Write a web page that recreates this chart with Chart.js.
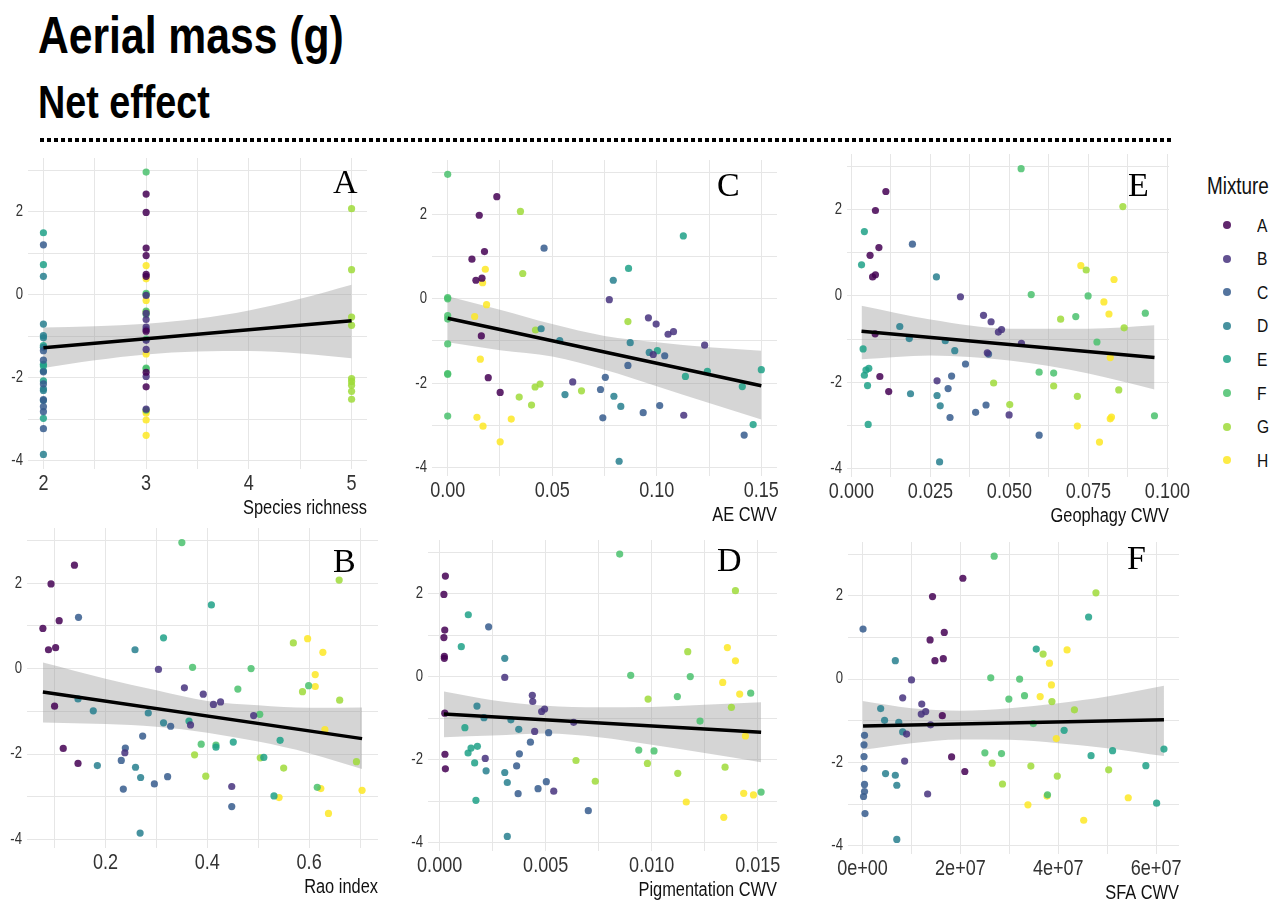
<!DOCTYPE html>
<html>
<head>
<meta charset="utf-8">
<script src="https://cdn.jsdelivr.net/npm/chart.js@4.4.1/dist/chart.umd.min.js"></script>
<style>
  html, body { margin: 0; padding: 0; background: #fff; }
  body { width: 1285px; height: 901px; position: relative; overflow: hidden;
         font-family: 'Liberation Sans Narrow', 'Arial Narrow', 'Liberation Sans', Arial, sans-serif; }
  .txt { position: absolute; white-space: nowrap; color: #000; transform: scaleX(0.82); transform-origin: 0 0; }
  .h1 { left: 38px; top: 9px; font-size: 52px; line-height: 52px; font-weight: bold; }
  .h2 { left: 38px; top: 79px; font-size: 46px; line-height: 46px; font-weight: bold; }
  .dots { position: absolute; left: 40px; top: 138px; width: 1132px; height: 4px;
          background: repeating-linear-gradient(to right, #000 0 4px, transparent 4px 7px); }
  .tag { position: absolute; font-family: 'Liberation Serif', 'Times New Roman', serif;
         font-size: 34px; line-height: 34px; color: #000; }
  .panel { position: absolute; }
  .leg-title { left: 1207px; top: 175px; font-size: 23px; line-height: 23px; color: #111; }
  .leg-dot { position: absolute; width: 8px; height: 8px; border-radius: 50%; }
  .leg-lab { position: absolute; font-size: 19px; line-height: 19px; color: #111; }
</style>
</head>
<body>
<div class="txt h1">Aerial mass (g)</div>
<div class="txt h2">Net effect</div>
<div class="dots"></div>
<div class="txt leg-title">Mixture</div>
<div id="legend"></div>

<script>
// ----- data: one entry per plot (71 plots) -----
const mixtures = ['A', 'B', 'C', 'D', 'E', 'F', 'G', 'H'];
const mixColors = ['#440154', '#46337E', '#365C8D', '#277F8E', '#1FA187', '#4AC16D', '#9FDA3A', '#FDE725'];

const mix = [
  ...'AAAAAAAAA', ...'BBBBBBBBB', ...'CCCCCCCCC', ...'DDDDDDDDD',
  ...'EEEEEEEE', ...'FFFFFFFFF', ...'GGGGGGGGG', ...'HHHHHHHHH'
];

const netEffect = [
  2.42, 1.98, 1.12, 0.94, 0.49, 0.44, -0.88, -1.87, -2.22,
  -0.02, -0.45, -0.60, -0.78, -0.84, -1.10, -1.32, -1.97, -2.76,
  1.20, -1.35, -1.58, -1.86, -2.15, -2.53, -2.70, -2.82, -3.23,
  0.44, -0.71, -0.99, -1.04, -1.27, -2.27, -2.31, -2.55, -3.85,
  1.49, 0.72, -1.23, -1.68, -1.72, -1.84, -2.08, -2.98,
  2.95, 0.03, 0.00, -0.40, -0.48, -1.07, -1.77, -1.79, -2.78,
  2.07, 0.60, -0.54, -0.74, -2.02, -2.09, -2.18, -2.33, -2.52,
  0.70, 0.38, -0.14, -0.42, -1.43, -2.81, -2.85, -3.02, -3.39
];

const richness = [
  3, 3, 3, 3, 3, 3, 3, 3, 3,
  3, 3, 3, 3, 3, 3, 3, 3, 3,
  2, 2, 2, 2, 2, 2, 2, 2, 2,
  2, 2, 2, 2, 2, 2, 2, 2, 2,
  2, 2, 2, 2, 2, 2, 2, 2,
  3, 3, 3, 3, 3, 3, 3, 3, 3,
  5, 5, 5, 5, 5, 5, 5, 5, 5,
  3, 3, 3, 3, 3, 3, 3, 3, 3
];

const raoIndex = [
  0.139, 0.093, 0.109, 0.077, 0.102, 0.088, 0.100, 0.117, 0.146,
  0.304, 0.355, 0.392, 0.426, 0.412, 0.491, 0.367, 0.238, 0.448,
  0.147, 0.328, 0.273, 0.239, 0.231, 0.322, 0.296, 0.235, 0.448,
  0.258, 0.146, 0.176, 0.284, 0.314, 0.184, 0.259, 0.269, 0.268,
  0.408, 0.314, 0.364, 0.543, 0.451, 0.417, 0.511, 0.531,
  0.350, 0.371, 0.486, 0.599, 0.460, 0.503, 0.388, 0.417, 0.616,
  0.659, 0.569, 0.587, 0.660, 0.375, 0.504, 0.693, 0.550, 0.397,
  0.597, 0.627, 0.612, 0.612, 0.631, 0.623, 0.704, 0.541, 0.638
];

const aeCwv = [
  0.0235, 0.0151, 0.0176, 0.0116, 0.0164, 0.0135, 0.0161, 0.0194, 0.0251,
  0.0773, 0.0960, 0.0997, 0.1080, 0.1054, 0.1229, 0.0983, 0.0598, 0.1129,
  0.0461, 0.1038, 0.0862, 0.0754, 0.0731, 0.1014, 0.0935, 0.0742, 0.1418,
  0.0792, 0.0447, 0.0536, 0.0873, 0.0964, 0.0561, 0.0795, 0.0828, 0.0820,
  0.1127, 0.0865, 0.1003, 0.1500, 0.1242, 0.1137, 0.1409, 0.1461,
  0, 0, 0, 0, 0, 0, 0, 0, 0,
  0.0348, 0.0359, 0.0862, 0.0420, 0.0442, 0.0418, 0.0640, 0.0342, 0.0401,
  0.0180, 0.0167, 0.0186, 0.0129, 0.0156, 0.0140, 0.0304, 0.0169, 0.0251
];

const geophagyCwv = [
  0.0109, 0.0076, 0.0087, 0.0059, 0.0076, 0.0067, 0.0075, 0.0090, 0.0118,
  0.0345, 0.0418, 0.0442, 0.0475, 0.0465, 0.0538, 0.0430, 0.0271, 0.0499,
  0.0193, 0.0434, 0.0361, 0.0317, 0.0306, 0.0426, 0.0393, 0.0312, 0.0594,
  0.0269, 0.0153, 0.0183, 0.0297, 0.0327, 0.0187, 0.0271, 0.0281, 0.0279,
  0.0041, 0.0032, 0.0037, 0.0055, 0.0046, 0.0041, 0.0051, 0.0053,
  0.0537, 0.0569, 0.0749, 0.0930, 0.0710, 0.0777, 0.0594, 0.0640, 0.0959,
  0.0859, 0.0743, 0.0662, 0.0863, 0.0450, 0.0640, 0.0846, 0.0715, 0.0501,
  0.0726, 0.0831, 0.0799, 0.0815, 0.0819, 0.0823, 0.0819, 0.0715, 0.0785
];

const pigmentCwv = [
  0.00027, 0.00020, 0.00024, 0.00020, 0.00022, 0.00022, 0.00024, 0.00025, 0.00027,
  0.00307, 0.00437, 0.00439, 0.00495, 0.00481, 0.00632, 0.00448, 0.00215, 0.00538,
  0.00231, 0.00514, 0.00428, 0.00376, 0.00363, 0.00503, 0.00464, 0.00370, 0.00701,
  0.00307, 0.00176, 0.00209, 0.00336, 0.00373, 0.00219, 0.00307, 0.00319, 0.00319,
  0.00135, 0.00102, 0.00119, 0.00178, 0.00148, 0.00134, 0.00165, 0.00171,
  0.00849, 0.00901, 0.01182, 0.01467, 0.01121, 0.01228, 0.00939, 0.01011, 0.01516,
  0.01395, 0.01170, 0.00983, 0.01376, 0.00643, 0.00980, 0.01346, 0.01123, 0.00734,
  0.01357, 0.01395, 0.01335, 0.01415, 0.01442, 0.01434, 0.01480, 0.01163, 0.01340
];

const sfaCwv = [
  2.05e7, 1.43e7, 1.67e7, 1.38e7, 1.65e7, 1.48e7, 1.63e7, 1.82e7, 2.09e7,
  1.00e7, 0.82e7, 1.21e7, 1.29e7, 1.20e7, 1.39e7, 0.90e7, 0.86e7, 1.33e7,
  0.01e7, 0.04e7, 0.03e7, 0.03e7, 0.03e7, 0.04e7, 0.04e7, 0.02e7, 0.05e7,
  0.67e7, 0.37e7, 0.45e7, 0.74e7, 0.82e7, 0.47e7, 0.67e7, 0.70e7, 0.70e7,
  4.62e7, 3.55e7, 4.12e7, 6.16e7, 5.11e7, 4.67e7, 5.79e7, 6.01e7,
  2.69e7, 2.62e7, 3.21e7, 3.31e7, 2.99e7, 3.49e7, 2.50e7, 2.84e7, 3.78e7,
  4.77e7, 3.69e7, 3.87e7, 4.33e7, 2.65e7, 3.44e7, 5.03e7, 3.98e7, 2.86e7,
  4.18e7, 3.82e7, 3.86e7, 3.63e7, 3.96e7, 3.77e7, 5.43e7, 3.38e7, 4.52e7
];

// ----- fitted lines and confidence bands -----
const richFitX = [2, 5],            richFitY = [-1.28, -0.63];
const richBandX = [2, 2.5, 3, 3.5, 4, 4.5, 5];
const richBandHi = [-0.79, -0.76, -0.70, -0.58, -0.38, -0.10, 0.24];
const richBandLo = [-1.77, -1.58, -1.44, -1.37, -1.36, -1.42, -1.53];

const aeFitX = [0, 0.15],           aeFitY = [-0.46, -2.06];
const aeBandX = [0, 0.025, 0.05, 0.075, 0.1, 0.125, 0.15];
const aeBandHi = [0.06, -0.26, -0.60, -0.88, -1.03, -1.15, -1.23];
const aeBandLo = [-1.03, -1.22, -1.37, -1.68, -2.07, -2.47, -2.86];

const geoFitX = [0.0032, 0.0959],   geoFitY = [-0.82, -1.43];
const geoBandX = [0.0032, 0.025, 0.05, 0.075, 0.0959];
const geoBandHi = [-0.23, -0.55, -0.76, -0.76, -0.68];
const geoBandLo = [-1.47, -1.38, -1.50, -1.80, -2.17];

const raoFitX = [0.077, 0.704],     raoFitY = [-0.55, -1.64];
const raoBandX = [0.077, 0.2, 0.3, 0.4, 0.5, 0.6, 0.704];
const raoBandHi = [0.14, -0.24, -0.51, -0.76, -0.86, -0.92, -0.91];
const raoBandLo = [-1.26, -1.30, -1.36, -1.50, -1.71, -1.98, -2.35];

const pigFitX = [0.0002, 0.01516],  pigFitY = [-0.90, -1.34];
const pigBandX = [0.0002, 0.0025, 0.005, 0.0075, 0.01, 0.0125, 0.01516];
const pigBandHi = [-0.36, -0.57, -0.70, -0.74, -0.73, -0.68, -0.62];
const pigBandLo = [-1.46, -1.42, -1.37, -1.46, -1.64, -1.84, -2.06];

const sfaFitX = [0.01e7, 6.16e7],   sfaFitY = [-1.13, -0.98];
const sfaBandX = [0, 1e7, 2e7, 3e7, 4e7, 5e7, 6.16e7];
const sfaBandHi = [-0.53, -0.70, -0.76, -0.70, -0.58, -0.42, -0.16];
const sfaBandLo = [-1.70, -1.54, -1.45, -1.46, -1.54, -1.66, -1.85];

// ----- ticks (grid positions + labels, '' = minor line) -----
const yTicks = [-4, -3, -2, -1, 0, 1, 2, 3];
const yTickLabels = ['-4', '', '-2', '', '0', '', '2', ''];

const richTicks = [2, 2.5, 3, 3.5, 4, 4.5, 5];
const richTickLabels = ['2', '', '3', '', '4', '', '5'];
const aeTicks = [0, 0.025, 0.05, 0.075, 0.1, 0.125, 0.15];
const aeTickLabels = ['0.00', '', '0.05', '', '0.10', '', '0.15'];
const geoTicks = [0, 0.0125, 0.025, 0.0375, 0.05, 0.0625, 0.075, 0.0875, 0.1];
const geoTickLabels = ['0.000', '', '0.025', '', '0.050', '', '0.075', '', '0.100'];
const raoTicks = [0.1, 0.2, 0.3, 0.4, 0.5, 0.6, 0.7];
const raoTickLabels = ['', '0.2', '', '0.4', '', '0.6', ''];
const pigTicks = [0, 0.0025, 0.005, 0.0075, 0.01, 0.0125, 0.015];
const pigTickLabels = ['0.000', '', '0.005', '', '0.010', '', '0.015'];
const sfaTicks = [0, 1e7, 2e7, 3e7, 4e7, 5e7, 6e7];
const sfaTickLabels = ['0e+00', '', '2e+07', '', '4e+07', '', '6e+07'];

// ----- styling / layout -----
const FONT = "'Liberation Sans Narrow', 'Arial Narrow', 'Liberation Sans', Arial, sans-serif";
Chart.defaults.font.family = FONT;
Chart.defaults.color = '#333';

const GRID = '#e6e6e6';
const BAND = 'rgba(150,150,150,0.40)';
const Y_RANGE = [-4.2, 3.29];
const Y_AXIS_W = 30, PAD_T = 6, PAD_R = 26, X_AXIS_H = 58;
const NARROW = 0.82;   // the figure's text is horizontally condensed

function rgba(hex, a){
  const n = parseInt(hex.slice(1), 16);
  return `rgba(${(n >> 16) & 255},${(n >> 8) & 255},${n & 255},${a})`;
}

// squeeze canvas text horizontally (fillText maxWidth scales around the anchor)
function condense(ctx){
  const fill = ctx.fillText.bind(ctx);
  ctx.fillText = (t, x, y, mw) => {
    const w = ctx.measureText(t).width * NARROW;
    fill(t, x, y, mw === undefined ? w : Math.min(mw, w));
  };
}

function makePanel(p){
  const w = (p.rect.r - p.rect.l) + Y_AXIS_W + PAD_R;
  const h = (p.rect.b - p.rect.t) + PAD_T + X_AXIS_H;
  const box = document.createElement('div');
  box.className = 'panel';
  box.style.left = (p.rect.l - Y_AXIS_W) + 'px';
  box.style.top = (p.rect.t - PAD_T) + 'px';
  const cv = document.createElement('canvas');
  cv.width = w; cv.height = h;
  cv.style.width = w + 'px'; cv.style.height = h + 'px';
  box.appendChild(cv);
  document.body.appendChild(box);
  condense(cv.getContext('2d'));

  const datasets = [
    { type: 'line', data: p.bandX.map((x, i) => ({x, y: p.bandHi[i]})),
      borderWidth: 0, borderColor: 'rgba(0,0,0,0)', pointRadius: 0,
      fill: '+1', backgroundColor: BAND, cubicInterpolationMode: 'monotone', order: 10 },
    { type: 'line', data: p.bandX.map((x, i) => ({x, y: p.bandLo[i]})),
      borderWidth: 0, borderColor: 'rgba(0,0,0,0)', pointRadius: 0,
      fill: false, cubicInterpolationMode: 'monotone', order: 10 }
  ];
  mixtures.forEach((m, k) => {
    const pts = [];
    mix.forEach((mm, i) => { if (mm === m) pts.push({x: p.xs[i], y: netEffect[i]}); });
    datasets.push({ type: 'scatter', label: m, data: pts,
      backgroundColor: rgba(mixColors[k], 0.85), borderWidth: 0,
      pointRadius: 3.6, pointHoverRadius: 3.6, order: 5 });
  });
  datasets.push({ type: 'line', data: p.fitX.map((x, i) => ({x, y: p.fitY[i]})),
    borderColor: '#000', borderWidth: 3.5, pointRadius: 0, fill: false, order: 1 });

  new Chart(cv, {
    type: 'scatter',
    data: { datasets },
    options: {
      responsive: false,
      animation: false,
      events: [],
      layout: { padding: { top: PAD_T, right: PAD_R, left: 0, bottom: 0 } },
      plugins: { legend: { display: false }, tooltip: { enabled: false } },
      scales: {
        x: {
          type: 'linear', min: p.xRange[0], max: p.xRange[1],
          afterBuildTicks: s => { s.ticks = p.ticks.map(v => ({value: v})); },
          afterFit: s => { s.height = X_AXIS_H; s.paddingLeft = 0; s.paddingRight = 0; },
          grid: { color: GRID, lineWidth: 1, drawTicks: false },
          border: { display: false },
          ticks: { callback: (v, i) => p.tickLabels[i], autoSkip: false, maxRotation: 0,
                   font: { size: 22 }, color: '#333', padding: 2 },
          title: { display: true, text: p.title, align: 'end', color: '#111',
                   font: { size: 20 }, padding: { top: 0, bottom: 7 } }
        },
        y: {
          type: 'linear', min: Y_RANGE[0], max: Y_RANGE[1],
          afterBuildTicks: s => { s.ticks = yTicks.map(v => ({value: v})); },
          afterFit: s => { s.width = Y_AXIS_W; s.paddingTop = 0; s.paddingBottom = 0; },
          grid: { color: GRID, lineWidth: 1, drawTicks: false },
          border: { display: false },
          ticks: { callback: (v, i) => yTickLabels[i], autoSkip: false,
                   font: { size: 16 }, color: '#333', padding: 5 }
        }
      }
    }
  });

  const tag = document.createElement('div');
  tag.className = 'tag';
  tag.textContent = p.tag;
  tag.style.left = p.tagPos[0] + 'px';
  tag.style.top = (p.tagPos[1] - 28.5) + 'px';
  document.body.appendChild(tag);
}

const panels = [
  { tag: 'A', tagPos: [333, 193], rect: {l: 28, t: 158, r: 367, b: 469}, xRange: [1.85, 5.15],
    xs: richness, ticks: richTicks, tickLabels: richTickLabels, title: 'Species richness',
    fitX: richFitX, fitY: richFitY, bandX: richBandX, bandHi: richBandHi, bandLo: richBandLo },
  { tag: 'C', tagPos: [717, 196], rect: {l: 432, t: 160, r: 777, b: 476}, xRange: [-0.0075, 0.1575],
    xs: aeCwv, ticks: aeTicks, tickLabels: aeTickLabels, title: 'AE CWV',
    fitX: aeFitX, fitY: aeFitY, bandX: aeBandX, bandHi: aeBandHi, bandLo: aeBandLo },
  { tag: 'E', tagPos: [1128, 196], rect: {l: 847, t: 154, r: 1169, b: 477}, xRange: [-0.0014, 0.1005],
    xs: geophagyCwv, ticks: geoTicks, tickLabels: geoTickLabels, title: 'Geophagy CWV',
    fitX: geoFitX, fitY: geoFitY, bandX: geoBandX, bandHi: geoBandHi, bandLo: geoBandLo },
  { tag: 'B', tagPos: [333, 572], rect: {l: 27, t: 528, r: 378, b: 848}, xRange: [0.0458, 0.7353],
    xs: raoIndex, ticks: raoTicks, tickLabels: raoTickLabels, title: 'Rao index',
    fitX: raoFitX, fitY: raoFitY, bandX: raoBandX, bandHi: raoBandHi, bandLo: raoBandLo },
  { tag: 'D', tagPos: [717, 571], rect: {l: 428, t: 540, r: 777, b: 851}, xRange: [-0.00055, 0.01591],
    xs: pigmentCwv, ticks: pigTicks, tickLabels: pigTickLabels, title: 'Pigmentation CWV',
    fitX: pigFitX, fitY: pigFitY, bandX: pigBandX, bandHi: pigBandHi, bandLo: pigBandLo },
  { tag: 'F', tagPos: [1127, 569], rect: {l: 848, t: 542, r: 1179, b: 854}, xRange: [-0.2975e7, 6.4675e7],
    xs: sfaCwv, ticks: sfaTicks, tickLabels: sfaTickLabels, title: 'SFA CWV',
    fitX: sfaFitX, fitY: sfaFitY, bandX: sfaBandX, bandHi: sfaBandHi, bandLo: sfaBandLo }
];
panels.forEach(makePanel);

// ----- legend -----
const legend = document.getElementById('legend');
mixtures.forEach((m, k) => {
  const cy = 225 + k * 33.6;
  const dot = document.createElement('div');
  dot.className = 'leg-dot';
  dot.style.left = (1227 - 4) + 'px';
  dot.style.top = (cy - 4) + 'px';
  dot.style.background = rgba(mixColors[k], 0.85);
  legend.appendChild(dot);
  const lab = document.createElement('div');
  lab.className = 'txt leg-lab';
  lab.textContent = m;
  lab.style.left = '1257px';
  lab.style.top = (cy - 9.5) + 'px';
  legend.appendChild(lab);
});
</script>
</body>
</html>
